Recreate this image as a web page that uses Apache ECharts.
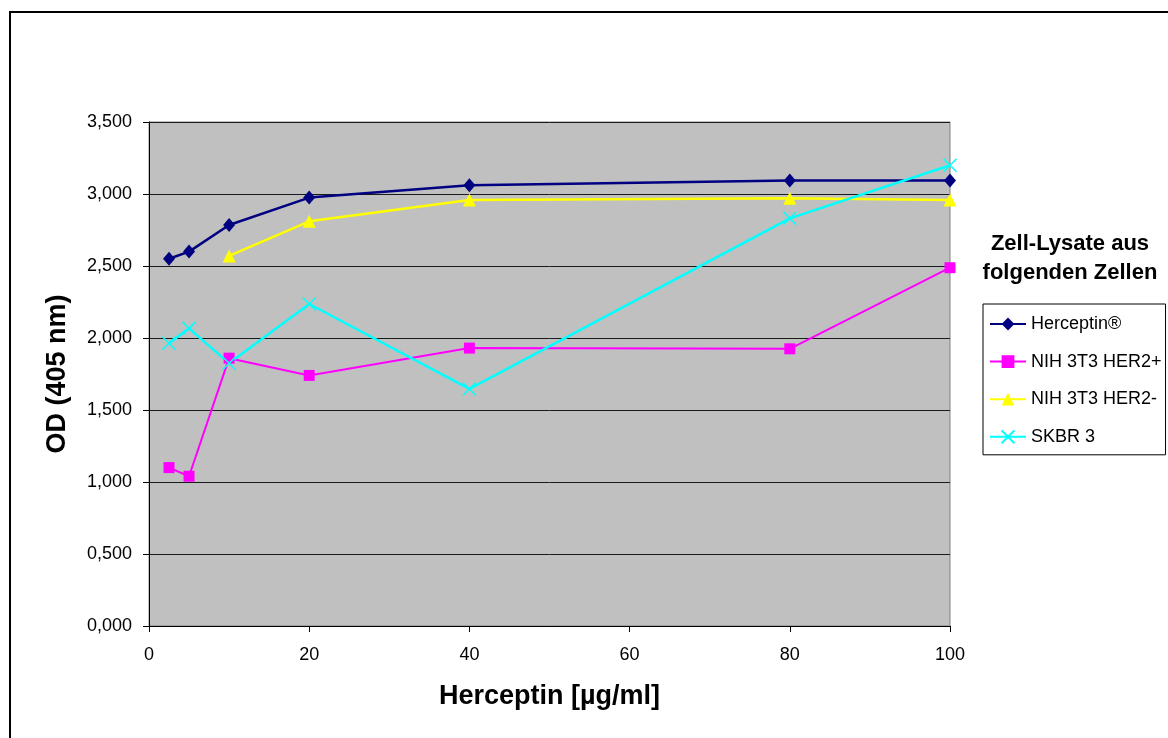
<!DOCTYPE html>
<html>
<head>
<meta charset="utf-8">
<script src="https://cdn.jsdelivr.net/npm/echarts@6/dist/echarts.min.js"></script>
<style>
html,body{margin:0;padding:0;background:#fff;}
#chart{width:1168px;height:738px;}
</style>
</head>
<body>
<div id="chart"></div>
<script>
// Data
const concentrations = [2.5, 5, 10, 20, 40, 80, 100];
const herceptin   = [2.55, 2.60, 2.785, 2.975, 3.06, 3.093, 3.093];
const nihHer2Pos  = [1.10, 1.04, 1.86, 1.74, 1.93, 1.925, 2.488];
const nihHer2Neg  = [null, null, 2.57, 2.81, 2.958, 2.97, 2.958];
const skbr3       = [1.963, 2.067, 1.824, 2.236, 1.646, 2.831, 3.20];
const seriesNames = ['Herceptin®', 'NIH 3T3 HER2+', 'NIH 3T3 HER2-', 'SKBR 3'];
const legendTitle = 'Zell-Lysate aus\nfolgenden Zellen';
const xTitle = 'Herceptin [µg/ml]';
const yTitle = 'OD (405 nm)';

const FONT = '"Liberation Sans", Arial, sans-serif';
function pairs(vals){
  const out = [];
  vals.forEach((v,i)=>{ if(v!==null) out.push([concentrations[i], v]); });
  return out;
}

const chart = echarts.init(document.getElementById('chart'), null, {renderer:'canvas'});
const lineW = 2.5;
chart.setOption({
  animation:false,
  backgroundColor:'#fff',
  textStyle:{fontFamily:FONT},
  grid:{left:149, right:218, top:122, bottom:112, show:true,
        backgroundColor:'#C0C0C0', borderColor:'#808080', borderWidth:1},
  xAxis:{
    type:'value', min:0, max:100, interval:20,
    name:xTitle, nameLocation:'middle', nameGap:57,
    nameTextStyle:{fontFamily:FONT, fontSize:27, fontWeight:'bold', color:'#000'},
    axisLine:{show:true, lineStyle:{color:'#000', width:1}},
    axisTick:{show:true, length:6, lineStyle:{color:'#000'}},
    axisLabel:{fontFamily:FONT, fontSize:18, color:'#000', margin:20},
    splitLine:{show:false}
  },
  yAxis:{
    type:'value', min:0, max:3.5, interval:0.5,
    name:yTitle, nameLocation:'middle', nameGap:78, nameRotate:90,
    nameTextStyle:{fontFamily:FONT, fontSize:27, fontWeight:'bold', color:'#000'},
    axisLine:{show:true, lineStyle:{color:'#000', width:1}},
    axisTick:{show:true, length:6, lineStyle:{color:'#000'}},
    axisLabel:{fontFamily:FONT, fontSize:18, color:'#000', margin:17,
      formatter:v=>v.toFixed(3).replace('.', ',')},
    splitLine:{show:true, lineStyle:{color:'#1a1a1a', width:1}}
  },
  legend:{
    orient:'vertical', left:983, top:304,
    padding:[10, 4, 8, 6],
    borderColor:'#000', borderWidth:1,
    itemWidth:36, itemHeight:16, itemGap:17.6,
    textStyle:{fontFamily:FONT, fontSize:18, color:'#000', lineHeight:20},
    data:seriesNames
  },
  graphic:[
    {type:'rect', silent:true, z:-1,
     shape:{x:10, y:12, width:1200, height:800},
     style:{fill:null, stroke:'#000', lineWidth:2}},
    {type:'text', x:1070, y:258, silent:true,
     style:{text:legendTitle, font:'bold 22px "Liberation Sans", Arial, sans-serif',
            fill:'#000', align:'center', verticalAlign:'middle', lineHeight:29}}
  ],
  series:[
    {name:seriesNames[0], type:'line', data:pairs(herceptin),
     symbol:'diamond', symbolSize:[12,14],
     lineStyle:{color:'#000080', width:lineW}, itemStyle:{color:'#000080'}},
    {name:seriesNames[1], type:'line', data:pairs(nihHer2Pos),
     symbol:'rect', symbolSize:11,
     lineStyle:{color:'#FF00FF', width:2}, itemStyle:{color:'#FF00FF'}},
    {name:seriesNames[2], type:'line', data:pairs(nihHer2Neg),
     symbol:'triangle', symbolSize:13,
     lineStyle:{color:'#FFFF00', width:lineW}, itemStyle:{color:'#FFFF00'}},
    {name:seriesNames[3], type:'line', data:pairs(skbr3),
     symbol:'path://M0,0L10,10M10,0L0,10', symbolSize:13,
     lineStyle:{color:'#00FFFF', width:lineW},
     itemStyle:{color:'#00FFFF', borderColor:'#00FFFF', borderWidth:1.5}}
  ]
});
</script>
</body>
</html>
